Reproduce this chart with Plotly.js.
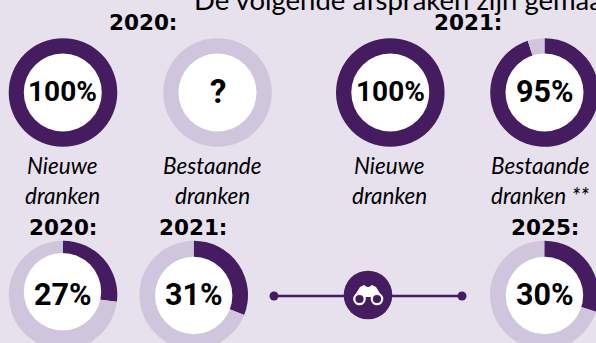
<!DOCTYPE html>
<html><head><meta charset="utf-8">
<style>html,body{margin:0;padding:0;width:596px;height:343px;overflow:hidden;background:#e7e1ee}</style>
<script src="https://cdn.plot.ly/plotly-3.0.1.min.js"></script></head>
<body><div id="c" style="width:640px;height:380px"></div>
<script>
const title = "De volgende afspraken zijn gemaakt";
const segmentNames = ["Gehaald", "Rest"];
const pctNew2020 = [100, 0];
const pctExisting2020 = [0, 100];
const pctNew2021 = [100, 0];
const pctExisting2021 = [95, 5];
const pctTotal2020 = [27, 73];
const pctTotal2021 = [31, 69];
const pctTotal2025 = [30, 70];
const centerLabels = ["100%", "?", "100%", "95%", "27%", "31%", "30%"];
const captions = ["Nieuwe", "dranken", "Bestaande", "dranken", "Nieuwe", "dranken", "Bestaande", "dranken **"];
const yearLabels = ["2020:", "2021:", "2020:", "2021:", "2025:"];

const W = 640, H = 380, DARK = "#451c5f", LIGHT = "#cfc6dd", BG = "#e7e1ee";
const R = 54.3;
const px = x => x / W, py = y => 1 - y / H;
const donuts = [
 {v:pctNew2020,      cx:63,    cy:92.5, wx:62.8,  wy:92.5,  wr:39,   fs:28},
 {v:pctExisting2020, cx:217.5, cy:92.5, wx:217.5, wy:92.5,  wr:39,   fs:33},
 {v:pctNew2021,      cx:390.3, cy:92.5, wx:390.3, wy:92.5,  wr:39,   fs:28},
 {v:pctExisting2021, cx:544.5, cy:92.5, wx:544.5, wy:92.5,  wr:39,   fs:30.5},
 {v:pctTotal2020,    cx:63,    cy:295,  wx:62.5,  wy:291.7, wr:38.7, fs:30.5},
 {v:pctTotal2021,    cx:193.7, cy:295,  wx:193.7, wy:295.5, wr:38.7, fs:30.5},
 {v:pctTotal2025,    cx:544.3, cy:295,  wx:544.5, wy:295.5, wr:38.7, fs:30.5}
];
const data = donuts.map(d => ({
  type:"pie", values:d.v, labels:segmentNames, sort:false, direction:"clockwise", rotation:0,
  textinfo:"none", hoverinfo:"none", showlegend:false,
  marker:{colors:[DARK, LIGHT], line:{width:0}},
  domain:{x:[px(d.cx-R), px(d.cx+R)], y:[py(d.cy+R), py(d.cy-R)]}
}));
const circle = (x,y,r,fill,line,lw) => ({type:"circle", xref:"paper", yref:"paper", layer:"above",
  x0:px(x-r), x1:px(x+r), y0:py(y+r), y1:py(y-r), fillcolor:fill, line:{color:line||fill, width:lw||0}});
const shapes = donuts.map(d => circle(d.wx,d.wy,d.wr,"#ffffff"));
shapes.push({type:"line", xref:"paper", yref:"paper", layer:"above", x0:px(274), x1:px(462), y0:py(296), y1:py(296), line:{color:DARK,width:2.5}});
shapes.push(circle(274,296,4.5,DARK), circle(462,296,4.5,DARK), circle(368,295,24.3,DARK));
// binoculars icon
const P = (x,y) => `${px(x)} ${py(y)}`;
shapes.push({type:"path", xref:"paper", yref:"paper", layer:"above", fillcolor:"#ffffff", line:{width:0},
  path:`M ${P(355,295)} L ${P(360,287)} L ${P(364,285)} L ${P(367,287)} L ${P(369,287)} L ${P(372,285)} L ${P(376,287)} L ${P(381,295)} L ${P(371,297)} L ${P(365,297)} Z`});
shapes.push(circle(359.5,299,5.2,DARK,"#ffffff",2.2), circle(377,299,5.2,DARK,"#ffffff",2.2));

const ann = (text,x,y,font,extra) => Object.assign({text, x:px(x), y:py(y), xref:"paper", yref:"paper",
  xanchor:"center", yanchor:"middle", showarrow:false, font:Object.assign({color:"#000"},font)}, extra||{});
const annotations = [];
donuts.forEach((d,i) => annotations.push(ann(centerLabels[i], d.wx, d.cy - 0.5, {size:d.fs, family:"Roboto", weight:700})));
const capPos = [[62,165],[62,195],[212,165],[212,195],[389,165],[389,195],[540,165],[540,195]];
captions.forEach((t,i) => annotations.push(ann(t, capPos[i][0], capPos[i][1], {size:22.5, family:"Lato", style:"italic"})));
const yrPos = [[143,23],[467.5,23],[63,227],[193,227],[545,227]];
yearLabels.forEach((t,i) => annotations.push(ann(t, yrPos[i][0], yrPos[i][1], {size:21.5, family:"DejaVu Sans", weight:700})));
annotations.push(ann(title, 192, -1, {size:27.5, family:"Lato"}, {xanchor:"left"}));

Plotly.newPlot("c", data, {width:W, height:H, margin:{l:0,r:0,t:0,b:0}, paper_bgcolor:BG, plot_bgcolor:BG, shapes, annotations}, {staticPlot:true, displayModeBar:false});
</script></body></html>
